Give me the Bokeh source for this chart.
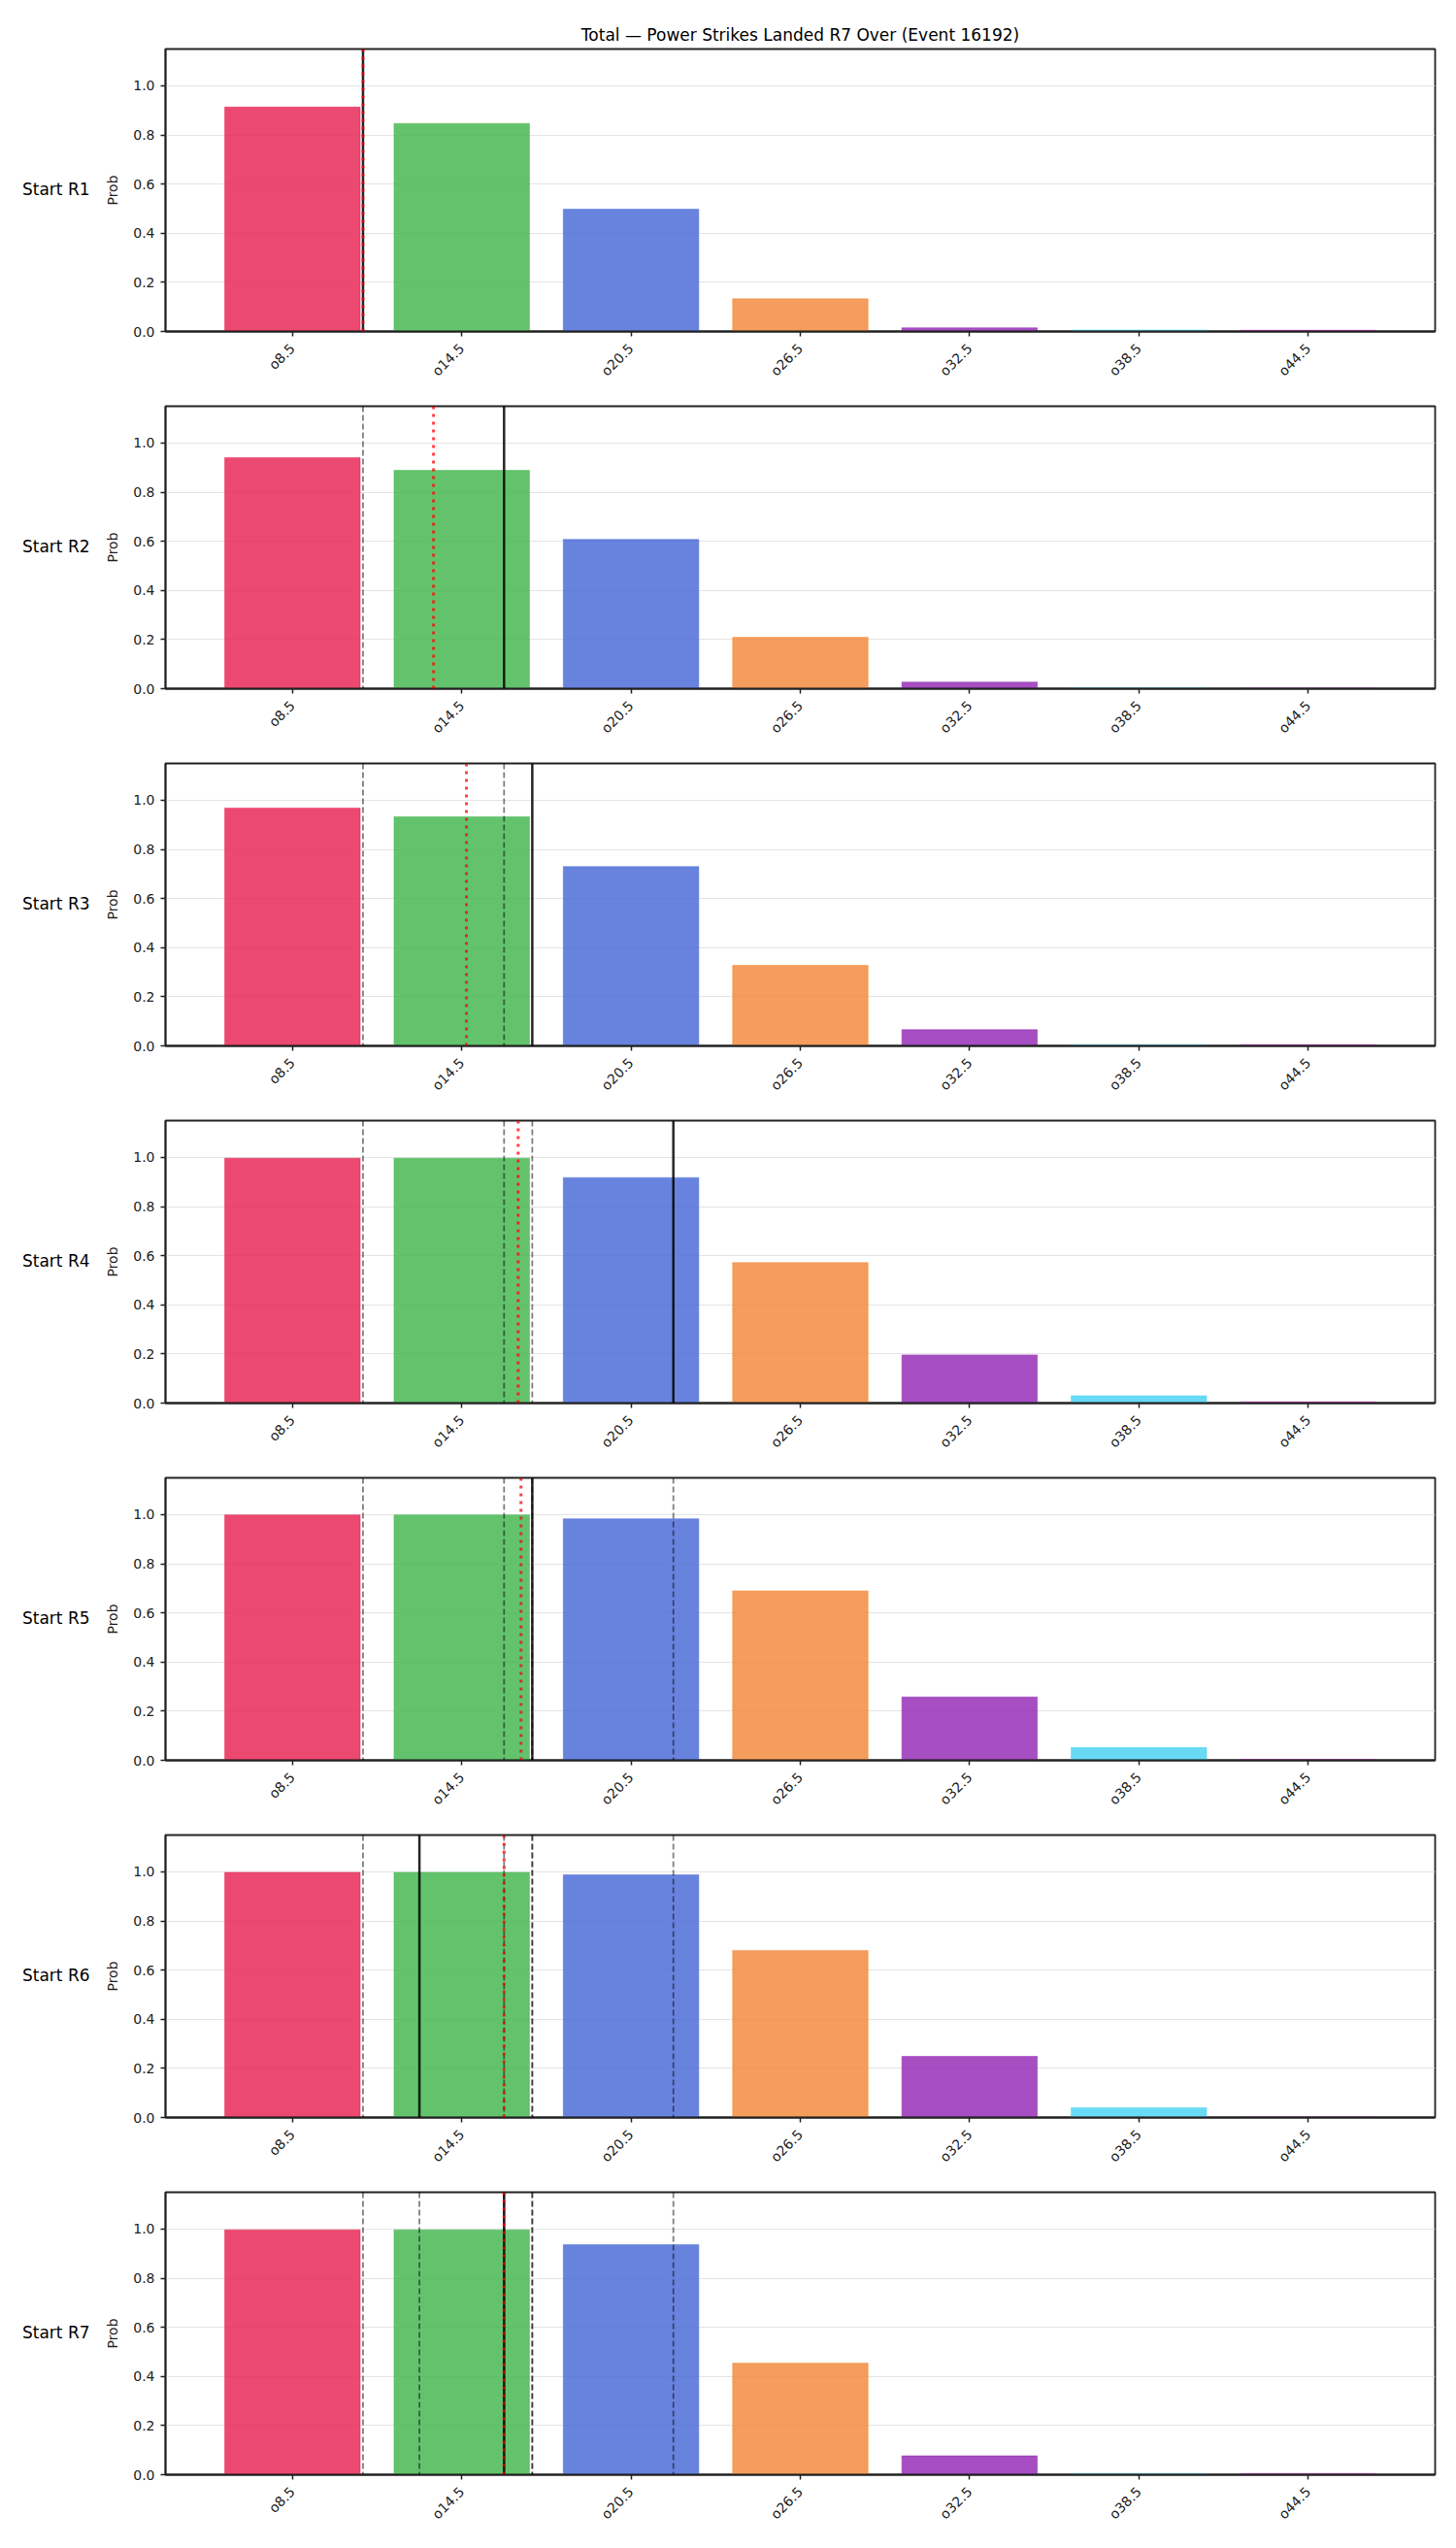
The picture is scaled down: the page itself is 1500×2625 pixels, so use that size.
import math
import numpy as np
from bokeh.plotting import figure
from bokeh.models import Range1d, FixedTicker, Span, ColumnDataSource, Div
from bokeh.layouts import column, row
from bokeh.embed import file_html
from bokeh.resources import INLINE

# ---------------- data ----------------
title_text = "Total — Power Strikes Landed R7 Over (Event 16192)"
line_labels = ["o8.5", "o14.5", "o20.5", "o26.5", "o32.5", "o38.5", "o44.5"]
line_values = [8.5, 14.5, 20.5, 26.5, 32.5, 38.5, 44.5]
bar_colors = ["#E72957", "#48B854", "#4E6DD8", "#F38C3F", "#962FB7", "#4DD3F3", "#DA30DA"]
round_names = ["Start R1", "Start R2", "Start R3", "Start R4", "Start R5", "Start R6", "Start R7"]
round_actuals = [11, 16, 17, 22, 17, 13, 16]
y_ticks = [0.0, 0.2, 0.4, 0.6, 0.8, 1.0]
y_tick_labels = ["0.0", "0.2", "0.4", "0.6", "0.8", "1.0"]

probs_r1 = [0.914, 0.847, 0.498, 0.133, 0.015, 0.006, 0.005]
probs_r2 = [0.941, 0.889, 0.608, 0.209, 0.027, 0.003, 0.002]
probs_r3 = [0.968, 0.933, 0.730, 0.328, 0.066, 0.005, 0.005]
probs_r4 = [0.997, 0.997, 0.918, 0.572, 0.196, 0.030, 0.005]
probs_r5 = [0.999, 0.999, 0.983, 0.690, 0.258, 0.052, 0.003]
probs_r6 = [0.998, 0.998, 0.988, 0.680, 0.249, 0.040, 0.002]
probs_r7 = [0.997, 0.997, 0.937, 0.454, 0.077, 0.005, 0.005]
probs = [probs_r1, probs_r2, probs_r3, probs_r4, probs_r5, probs_r6, probs_r7]

FONT = "DejaVu Sans"
INK = "#222222"
LABEL_W = 100


def to_x(v):
    return float(np.interp(v, line_values, list(range(len(line_values)))))


rows = []
for k in range(len(round_names)):
    first = k == 0
    top_border = 50 if first else 9
    fig_h = 409 if first else 368
    p = figure(
        width=1500 - LABEL_W,
        height=fig_h,
        x_range=Range1d(-0.75, 6.75),
        y_range=Range1d(0, 1.15),
        output_backend="svg",
        toolbar_location=None,
        min_border_left=170 - LABEL_W,
        min_border_right=22,
        min_border_top=top_border,
        min_border_bottom=68,
        title=title_text if first else None,
        background_fill_color="white",
        border_fill_color="white",
        margin=(0, 0, 0, 0),
    )
    if first:
        p.title.text_font = FONT
        p.title.text_font_size = "17px"
        p.title.text_font_style = "normal"
        p.title.align = "center"
        p.title.text_color = "black"

    src = ColumnDataSource(dict(x=list(range(len(line_labels))), top=probs[k],
                                color=bar_colors, label=line_labels))
    p.vbar(x="x", top="top", bottom=0, width=0.8, source=src,
           fill_color="color", fill_alpha=0.85,
           line_color="color", line_alpha=0.85, line_width=0.6)

    # previous rounds
    for j in range(k):
        p.add_layout(Span(location=to_x(round_actuals[j]), dimension="height",
                          line_color="black", line_alpha=0.5, line_width=1.8,
                          line_dash="6 3"))
    # current round
    p.add_layout(Span(location=to_x(round_actuals[k]), dimension="height",
                      line_color="black", line_alpha=0.85, line_width=2.5))
    # running mean
    running_mean = float(np.mean(round_actuals[:k + 1]))
    p.add_layout(Span(location=to_x(running_mean), dimension="height",
                      line_color="red", line_alpha=0.75, line_width=3,
                      line_dash="3 5"))

    # axes
    p.xaxis.ticker = FixedTicker(ticks=list(range(len(line_labels))))
    p.xaxis.major_label_overrides = {i: lab for i, lab in enumerate(line_labels)}
    p.xaxis.major_label_orientation = math.pi / 4
    p.yaxis.ticker = FixedTicker(ticks=y_ticks)
    p.yaxis.major_label_overrides = {t: lab for t, lab in zip(y_ticks, y_tick_labels)}
    p.yaxis.axis_label = "Prob"
    p.yaxis.axis_label_text_font = FONT
    p.yaxis.axis_label_text_font_size = "14px"
    p.yaxis.axis_label_text_font_style = "normal"
    p.yaxis.axis_label_text_color = INK
    p.yaxis.axis_label_standoff = 10
    for ax in (p.xaxis, p.yaxis):
        ax.major_label_text_font = FONT
        ax.major_label_text_font_size = "14px"
        ax.major_label_text_color = INK
        ax.major_tick_out = 5
        ax.major_tick_in = 0
        ax.minor_tick_out = 0
        ax.minor_tick_in = 0
        ax.major_tick_line_color = INK
        ax.major_tick_line_width = 1.5
        ax.axis_line_color = INK
        ax.axis_line_width = 1.8
    p.yaxis.major_label_standoff = 6
    p.xaxis.major_label_standoff = 10
    p.xgrid.visible = False
    p.ygrid.grid_line_color = "#e4e4e4"
    p.ygrid.grid_line_width = 1
    p.outline_line_color = INK
    p.outline_line_width = 1.8
    p.outline_line_alpha = 1

    pad = top_border + 145 - 11
    lab = Div(
        text=(f'<div style="padding-top:{pad}px;padding-left:23px;'
              f'font-family:\'{FONT}\';font-size:17px;color:black;'
              f'white-space:nowrap;line-height:22px;">{round_names[k]}</div>'),
        width=LABEL_W, height=fig_h, margin=(0, 0, 0, 0),
    )
    rows.append(row(lab, p, spacing=0, margin=(0, 0, 0, 0)))

layout = column(*rows, spacing=0, margin=(0, 0, 0, 0))
open("out.html", "w").write(file_html(layout, INLINE))
